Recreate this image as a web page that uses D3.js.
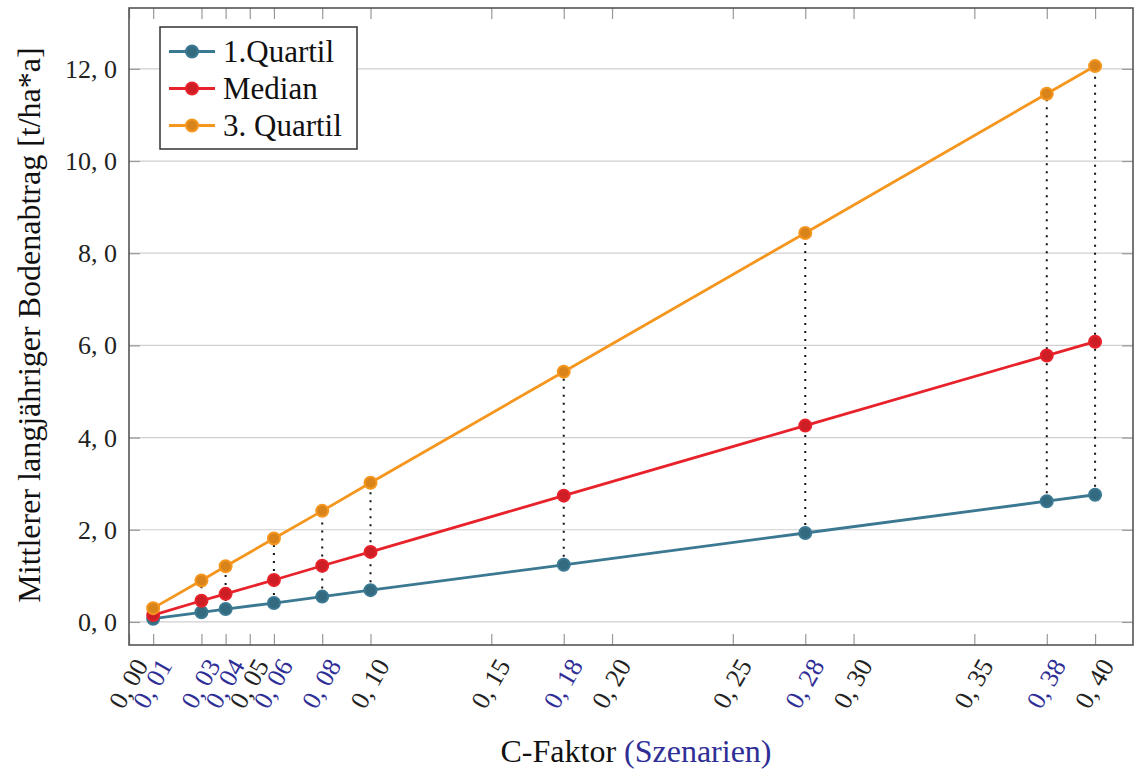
<!DOCTYPE html>
<html><head><meta charset="utf-8">
<script src="https://cdn.jsdelivr.net/npm/d3@7/dist/d3.min.js"></script>
<style>body{margin:0;background:#fff}svg{display:block}</style>
</head><body><svg id="c" width="1135" height="769"></svg>
<script>
const cFaktor = [0.01, 0.03, 0.04, 0.06, 0.08, 0.10, 0.18, 0.28, 0.38, 0.40];
const quartil1 = [0.07, 0.21, 0.28, 0.41, 0.55, 0.69, 1.24, 1.93, 2.62, 2.76];
const median = [0.15, 0.46, 0.61, 0.91, 1.22, 1.52, 2.74, 4.26, 5.78, 6.08];
const quartil3 = [0.30, 0.90, 1.21, 1.81, 2.41, 3.02, 5.43, 8.44, 11.46, 12.06];
const seriesNames = ["1.Quartil", "Median", "3. Quartil"];
const xTicksBlack = [0.00, 0.05, 0.10, 0.15, 0.20, 0.25, 0.30, 0.35, 0.40];
const xTicksBlue = [0.01, 0.03, 0.04, 0.06, 0.08, 0.18, 0.28, 0.38];
const yTicks = [0, 2, 4, 6, 8, 10, 12];

const colors = ["#3b7891", "#e8222b", "#f5961f"];
const serif = "'Liberation Serif', 'DejaVu Serif', serif";
const blue = "#2e2e96";

const svg = d3.select("#c");
const L = 129, R = 1133, T = 8, B = 645;
const x = d3.scaleLinear().domain([0, 0.4157]).range([L, R]);
const y = d3.scaleLinear().domain([-0.5, 13.32]).range([B, T]);

const fmt = (v, d) => v.toFixed(d).replace(".", ", ");

// grid
svg.append("g").selectAll("line").data(yTicks).join("line")
  .attr("x1", L).attr("x2", R).attr("y1", d => y(d)).attr("y2", d => y(d))
  .attr("stroke", "#cfcfcf").attr("stroke-width", 1.2);

// axes via d3
const allX = xTicksBlack.concat(xTicksBlue);
const styleTicks = g => { g.select(".domain").remove(); g.selectAll("line").attr("stroke", "#999").attr("stroke-width", 1.2); };
svg.append("g").attr("transform", `translate(0,${B})`)
  .call(d3.axisBottom(x).tickValues(allX).tickSize(-11).tickFormat("")).call(styleTicks);
svg.append("g").attr("transform", `translate(0,${T})`)
  .call(d3.axisTop(x).tickValues(allX).tickSize(-11).tickFormat("")).call(styleTicks);
svg.append("g").attr("transform", `translate(${L},0)`)
  .call(d3.axisLeft(y).tickValues(yTicks).tickSize(-11).tickFormat("")).call(styleTicks);
svg.append("g").attr("transform", `translate(${R},0)`)
  .call(d3.axisRight(y).tickValues(yTicks).tickSize(-11).tickFormat("")).call(styleTicks);

// frame
svg.append("rect").attr("x", L).attr("y", T).attr("width", R - L).attr("height", B - T)
  .attr("fill", "none").attr("stroke", "#555").attr("stroke-width", 1.6);

// y tick labels
svg.append("g").selectAll("text").data(yTicks).join("text")
  .attr("x", 117).attr("y", d => y(d)).attr("dy", "0.35em")
  .attr("text-anchor", "end").attr("font-family", serif).attr("font-size", 26)
  .attr("fill", "#222").text(d => fmt(d, 1));

// x tick labels
const xl = svg.append("g");
const addXLabel = (v, col) => xl.append("text")
  .attr("transform", `translate(${x(v) + 12},${B + 16}) rotate(-60)`)
  .attr("text-anchor", "end").attr("dy", "0.35em")
  .attr("font-family", serif).attr("font-size", 26).attr("fill", col).text(fmt(v, 2));
xTicksBlack.forEach(v => addXLabel(v, "#222"));
xTicksBlue.forEach(v => addXLabel(v, blue));

// dotted verticals
svg.append("g").selectAll("line").data(cFaktor.map((c, i) => i)).join("line")
  .attr("x1", i => x(cFaktor[i])).attr("x2", i => x(cFaktor[i]))
  .attr("y1", i => y(quartil1[i])).attr("y2", i => y(quartil3[i]))
  .attr("stroke", "#111").attr("stroke-width", 2).attr("stroke-dasharray", "2 6");

// series
const data = [quartil1, median, quartil3];
const line = d3.line().x((d, i) => x(cFaktor[i])).y(d => y(d));
data.forEach((s, k) => {
  svg.append("path").attr("d", line(s)).attr("fill", "none")
    .attr("stroke", colors[k]).attr("stroke-width", 2.8);
  svg.append("g").selectAll("circle").data(s).join("circle")
    .attr("cx", (d, i) => x(cFaktor[i])).attr("cy", d => y(d)).attr("r", 6)
    .attr("fill", d3.color(colors[k]).darker(0.35)).attr("stroke", colors[k]).attr("stroke-width", 2);
});

// legend
const lg = svg.append("g");
lg.append("rect").attr("x", 160).attr("y", 27).attr("width", 197).attr("height", 122)
  .attr("fill", "#fff").attr("stroke", "#333").attr("stroke-width", 1.5);
seriesNames.forEach((n, k) => {
  const yy = 51.5 + k * 37;
  lg.append("line").attr("x1", 169).attr("x2", 215).attr("y1", yy).attr("y2", yy)
    .attr("stroke", colors[k]).attr("stroke-width", 2.8);
  lg.append("circle").attr("cx", 192).attr("cy", yy).attr("r", 6)
    .attr("fill", d3.color(colors[k]).darker(0.35)).attr("stroke", colors[k]).attr("stroke-width", 2);
  lg.append("text").attr("x", 223).attr("y", yy).attr("dy", "0.35em")
    .attr("font-family", serif).attr("font-size", 31).attr("fill", "#111").text(n);
});

// axis titles
const xt = svg.append("text").attr("x", 636).attr("y", 762).attr("text-anchor", "middle")
  .attr("font-family", serif).attr("font-size", 32).attr("fill", "#111");
xt.append("tspan").text("C-Faktor ");
xt.append("tspan").attr("fill", blue).text("(Szenarien)");

svg.append("text").attr("transform", "translate(40,325) rotate(-90)").attr("text-anchor", "middle")
  .attr("font-family", serif).attr("font-size", 32).attr("fill", "#111")
  .text("Mittlerer langjähriger Bodenabtrag [t/ha*a]");
</script></body></html>
